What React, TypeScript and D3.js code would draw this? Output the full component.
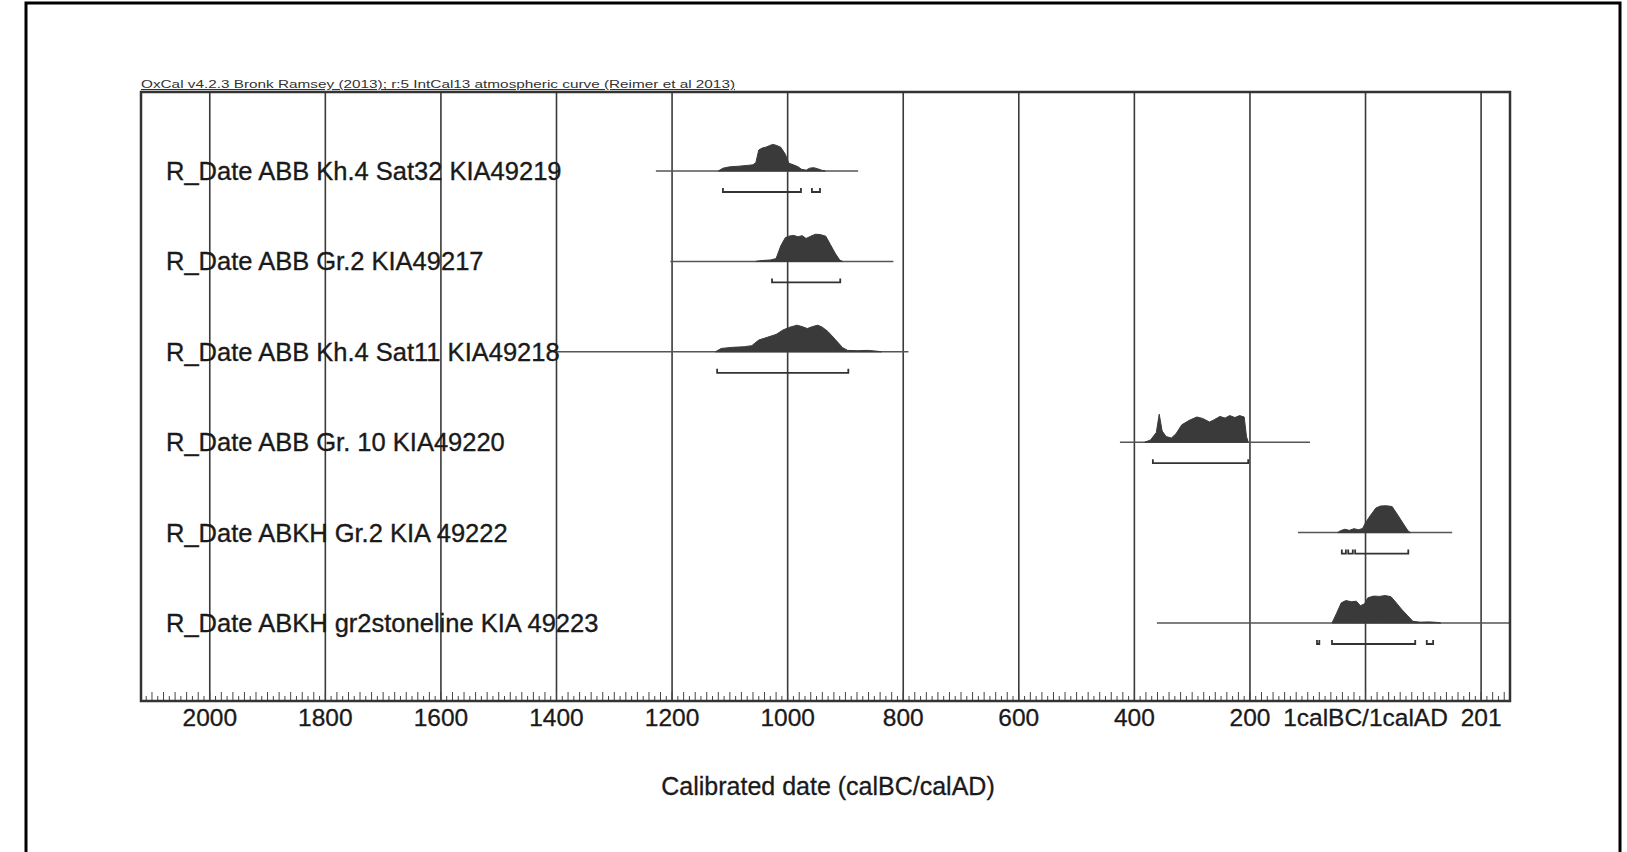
import React from 'react';
import * as d3 from 'd3';

// row labels, top to bottom
const labels = [
  'R_Date ABB Kh.4 Sat32 KIA49219',
  'R_Date ABB Gr.2 KIA49217',
  'R_Date ABB Kh.4 Sat11 KIA49218',
  'R_Date ABB Gr. 10 KIA49220',
  'R_Date ABKH Gr.2 KIA 49222',
  'R_Date ABKH gr2stoneline KIA 49223',
];

// probability curves: [year (BC negative), relative density]
const dens1 = [
  [-1120, 0], [-1112, 0.1], [-1100, 0.15], [-1085, 0.17], [-1070, 0.2], [-1060, 0.22], [-1055, 0.3],
  [-1050, 0.75], [-1044, 0.82], [-1038, 0.85], [-1032, 0.9], [-1026, 0.95], [-1020, 0.92], [-1012, 0.85],
  [-1004, 0.6], [-998, 0.28], [-990, 0.22], [-982, 0.15], [-976, 0.06], [-968, 0.03], [-962, 0.1],
  [-955, 0.12], [-948, 0.08], [-940, 0.02], [-935, 0],
];
const dens2 = [
  [-1055, 0], [-1045, 0.03], [-1030, 0.05], [-1020, 0.1], [-1012, 0.55], [-1004, 0.85], [-998, 0.9],
  [-990, 0.93], [-982, 0.88], [-975, 0.92], [-968, 0.82], [-960, 0.9], [-952, 0.97], [-944, 0.96],
  [-934, 0.9], [-926, 0.6], [-918, 0.3], [-910, 0.05], [-905, 0],
];
const dens3 = [
  [-1125, 0], [-1115, 0.12], [-1095, 0.16], [-1075, 0.18], [-1062, 0.22], [-1050, 0.42], [-1035, 0.52],
  [-1020, 0.62], [-1008, 0.78], [-996, 0.88], [-984, 0.95], [-975, 0.9], [-966, 0.83], [-957, 0.9],
  [-948, 0.95], [-940, 0.88], [-930, 0.72], [-918, 0.45], [-905, 0.15], [-896, 0.05], [-880, 0.04],
  [-860, 0.05], [-845, 0.02], [-838, 0],
];
const dens4 = [
  [-382, 0], [-372, 0.08], [-362, 0.35], [-357, 1.0], [-352, 0.4], [-345, 0.2], [-336, 0.15], [-328, 0.3],
  [-318, 0.62], [-305, 0.78], [-292, 0.9], [-282, 0.85], [-270, 0.72], [-262, 0.8], [-252, 0.92],
  [-243, 0.86], [-235, 0.95], [-226, 0.88], [-218, 0.95], [-210, 0.9], [-206, 0.2], [-203, 0],
];
const dens5 = [
  [-48, 0], [-44, 0.06], [-36, 0.12], [-28, 0.08], [-20, 0.14], [-12, 0.1], [-5, 0.15], [0, 0.35],
  [8, 0.6], [18, 0.88], [26, 0.95], [36, 0.96], [46, 0.93], [56, 0.62], [66, 0.3], [74, 0.05], [78, 0],
];
const dens6 = [
  [-58, 0], [-50, 0.35], [-42, 0.72], [-34, 0.8], [-24, 0.76], [-16, 0.78], [-9, 0.62], [-2, 0.68],
  [4, 0.9], [14, 0.96], [24, 0.95], [34, 0.98], [44, 0.94], [52, 0.75], [62, 0.5], [72, 0.28],
  [82, 0.06], [95, 0.03], [110, 0.04], [124, 0.02], [130, 0],
];
const densities = [dens1, dens2, dens3, dens4, dens5, dens6];

// thin horizontal line of each row (calibration span)
const spans = [[-1228, -878], [-1203, -817], [-1400, -791], [-425, -96], [-117, 150], [-361, 250]];

// 95.4% ranges under each curve
const ranges = [
  [[-1112, -977], [-958, -944]],
  [[-1027, -909]],
  [[-1122, -895]],
  [[-368, -203]],
  [[-41, -34], [-30, -22], [-18, 74]],
  [[-84, -80], [-58, 86], [106, 117]],
];

const gridYears = [-2000, -1800, -1600, -1400, -1200, -1000, -800, -600, -400, -200, 0, 200];
const tickLabels = ['2000', '1800', '1600', '1400', '1200', '1000', '800', '600', '400', '200', '1calBC/1calAD', '201'];

const font = 'Liberation Sans, Arial, Helvetica, sans-serif';

export default function App() {
  const W = 1627, H = 852;
  const left = 141, right = 1510, top = 92, bottom = 701;

  const x = d3.scaleLinear().domain([-2119, 250]).range([left, right]);
  const y = d3.scalePoint<string>().domain(labels).range([171, 623]);
  const h = d3.scaleLinear().domain([0, 1]).range([0, 28]);

  const minor = d3.range(-2110, 250, 10);

  return (
    <svg width={W} height={H} style={{ position: 'absolute', left: 0, top: 0, background: '#fff' }}>
      <rect x={26} y={3} width={1594} height={900} fill="#fff" stroke="#000" strokeWidth={3} />

      <text x={left} y={88} fontFamily={font} fontSize={11} fill="#333" textLength={594}
        lengthAdjust="spacingAndGlyphs" textDecoration="underline">
        OxCal v4.2.3 Bronk Ramsey (2013); r:5 IntCal13 atmospheric curve (Reimer et al 2013)
      </text>

      {gridYears.map((g) => (
        <line key={g} x1={x(g)} x2={x(g)} y1={top} y2={bottom} stroke="#3a3a3a" strokeWidth={1.6} />
      ))}

      {minor.map((m) => (
        <line key={m} x1={x(m)} x2={x(m)} y1={bottom} y2={bottom - (m % 20 === 0 ? 9 : 5)}
          stroke="#444" strokeWidth={1} />
      ))}

      {labels.map((lab, i) => {
        const base = y(lab) as number;
        const area = d3.area<number[]>()
          .x((d) => x(d[0]))
          .y0(base)
          .y1((d) => base - h(d[1]));
        return (
          <g key={lab}>
            <text x={166} y={base + 9} fontFamily={font} fontSize={25.5} fill="#1a1a1a"
              stroke="#1a1a1a" strokeWidth={0.35}>{lab}</text>
            <line x1={x(spans[i][0])} x2={x(spans[i][1])} y1={base} y2={base} stroke="#555" strokeWidth={1.5} />
            <path d={area(densities[i]) || ''} fill="#3a3a3a" stroke="#3a3a3a" strokeWidth={1} />
            {ranges[i].map((r, j) => {
              const yb = base + 21;
              const x1 = x(r[0]), x2 = x(r[1]);
              return (
                <path key={j} d={`M${x1},${yb - 4}V${yb}H${x2}V${yb - 4}`} fill="none"
                  stroke="#333" strokeWidth={1.8} />
              );
            })}
          </g>
        );
      })}

      <rect x={left} y={top} width={right - left} height={bottom - top} fill="none" stroke="#333" strokeWidth={2.5} />

      {gridYears.map((g, i) => (
        <text key={g} x={x(g)} y={726} textAnchor="middle" fontFamily={font} fontSize={24.5} fill="#1a1a1a"
          stroke="#1a1a1a" strokeWidth={0.3}>
          {tickLabels[i]}
        </text>
      ))}

      <text x={828} y={795} textAnchor="middle" fontFamily={font} fontSize={25} fill="#1a1a1a"
        stroke="#1a1a1a" strokeWidth={0.3}>
        Calibrated date (calBC/calAD)
      </text>
    </svg>
  );
}
